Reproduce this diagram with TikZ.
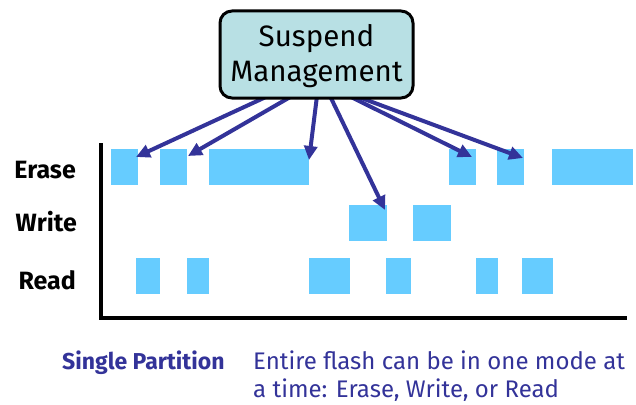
\documentclass[tikz,border=0pt]{standalone}
\usepackage{fontspec}
\setmainfont{Fira Sans}
\usetikzlibrary{arrows.meta}
\definecolor{barblue}{HTML}{66CCFF}
\definecolor{boxteal}{HTML}{B8E0E4}
\definecolor{arrowblue}{HTML}{333399}
\tikzset{
  bar/.style={fill=barblue, draw=none},
  rowlabel/.style={anchor=base east, inner sep=0pt, font=\fontsize{25}{28}\selectfont\bfseries},
  pointer/.style={draw=arrowblue, line width=4pt, -{Triangle[length=14pt,width=13pt]}},
  mgmtbox/.style={draw=black, line width=3pt, rounded corners=12pt, fill=boxteal,
    minimum width=193pt, minimum height=87pt},
  boxtext/.style={anchor=base, inner sep=0pt, font=\fontsize{29.5}{35}\selectfont},
  caption/.style={anchor=base west, inner sep=0pt, text=arrowblue, font=\fontsize{24}{27}\selectfont},
}
\begin{document}
\begin{tikzpicture}[x=1pt,y=-1pt]
\useasboundingbox (0,0) rectangle (636,404);

% Erase row
\fill[bar] (111,149) rectangle (138,185);
\fill[bar] (160,149) rectangle (187,185);
\fill[bar] (209,149) rectangle (309,185);
\fill[bar] (449,149) rectangle (476,185);
\fill[bar] (497,149) rectangle (524,185);
\fill[bar] (552,149) rectangle (633,185);
% Write row
\fill[bar] (349,205) rectangle (387,241);
\fill[bar] (413,205) rectangle (451,241);
% Read row
\fill[bar] (136,258) rectangle (160,294);
\fill[bar] (187,258) rectangle (209,294);
\fill[bar] (309,258) rectangle (350,294);
\fill[bar] (386,258) rectangle (411,294);
\fill[bar] (476,258) rectangle (498,294);
\fill[bar] (522,258) rectangle (553,294);

% Axes
\draw[line width=3.5pt] (101,143) -- (101,318) -- (627,318);

% Row labels
\node[rowlabel] (erase) at (76,178) {Erase};
\node[rowlabel] (write) at (77,231.5) {Write};
\node[rowlabel] (read) at (76,289) {Read};

% Arrow end points
\coordinate (s1) at (268,96);
\coordinate (s2) at (292,96);
\coordinate (s3) at (317,96);
\coordinate (s4) at (330,96);
\coordinate (s5) at (349,96);
\coordinate (s6) at (356,96);
\coordinate (t1) at (136,157);
\coordinate (t2) at (188,156);
\coordinate (t3) at (309,160);
\coordinate (t4) at (385,210);
\coordinate (t5) at (472,157);
\coordinate (t6) at (523,158);

\draw[pointer] (s1) -- (t1);
\draw[pointer] (s2) -- (t2);
\draw[pointer] (s3) -- (t3);
\draw[pointer] (s4) -- (t4);
\draw[pointer] (s5) -- (t5);
\draw[pointer] (s6) -- (t6);

% Controller box
\node[mgmtbox] (mgmt) at (316.5,54.5) {};
\node[boxtext] (mgmt1) at (316.5,46.7) {Suspend};
\node[boxtext] (mgmt2) at (316.5,81.7) {Management};

% Caption
\node[caption, font=\fontsize{23}{27}\selectfont\bfseries] (single) at (62,369.5) {Single Partition};
\node[caption] (desc1) at (253,369.5) {Entire flash can be in one mode at};
\node[caption] (desc2) at (253,397) {a time: Erase, Write, or Read};
\end{tikzpicture}
\end{document}
